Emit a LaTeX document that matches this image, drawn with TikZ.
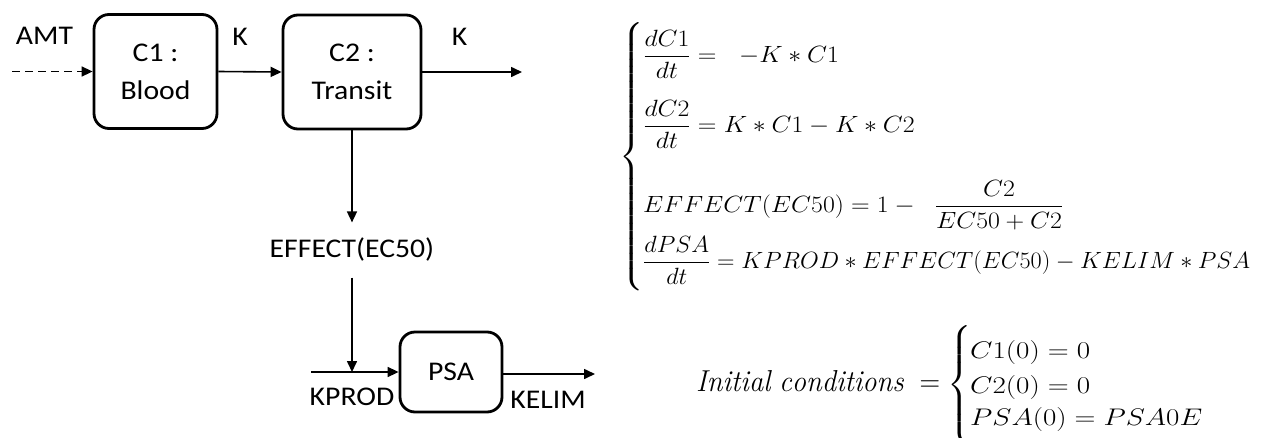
\RequirePackage{fix-cm}
\documentclass[tikz,border=0pt]{standalone}
\usepackage{amsmath}
\usepackage{fontspec}
\usepackage{graphicx}
\newfontfamily\labfont[FakeStretch=1.1]{Carlito}
\usetikzlibrary{arrows.meta}
\newcommand\mx[1]{\scalebox{1.1}[1]{$\displaystyle #1$}}
\newcommand\mw[3]{\resizebox{#1}{#2}{$\displaystyle #3$}}
\tikzset{
  cbox/.style={draw, line width=2.8pt, rounded corners=15pt, inner sep=0pt, align=center,
    font=\labfont\fontsize{27}{38}\selectfont},
  lab/.style={inner sep=0pt, font=\labfont\fontsize{27}{38}\selectfont},
  arr/.style={line width=1.6pt, -{Triangle[length=11pt,width=10pt]}},
  eq/.style={inner sep=0pt, anchor=base west, font=\fontsize{23.5}{28}\selectfont},
}
\begin{document}
\begin{tikzpicture}[x=1pt,y=-1pt]
\useasboundingbox (0,0) rectangle (1262,437);
% compartments
\node[cbox, minimum width=123pt, minimum height=114pt] (c1) at (155.5,71.5) {C1 :\\Blood};
\node[cbox, minimum width=138pt, minimum height=114pt] (c2) at (352,72) {C2 :\\Transit};
\node[cbox, minimum width=102pt, minimum height=80pt] (psa) at (451,372) {PSA};
% labels
\node[lab, anchor=base] (amt) at (44.5,44) {AMT};
\node[lab, anchor=base] (k1) at (240,45) {K};
\node[lab, anchor=base] (k2) at (459.5,45) {K};
\node[lab, anchor=base, text height=17.4pt, text depth=3.5pt, inner ysep=17pt] (eff) at (352,257) {EFFECT(EC50)};
\node[lab, anchor=base] (kprod) at (352,405) {KPROD};
\node[lab, anchor=base] (kelim) at (548,408) {KELIM};
% connectors
\coordinate (amtin) at (12,71.5);
\coordinate (kout) at (522,72);
\coordinate (j) at (352,372);
\coordinate (kin) at (311,372);
\coordinate (kel) at (595,374);
\draw[arr, dash pattern=on 8pt off 5pt] (amtin) -- (c1.west);
\draw[arr] (c1.east) -- (c2.west);
\draw[arr] (c2.east) -- (kout);
\draw[arr] (c2.south) -- (eff.north);
\draw[arr] (eff.south) -- (j);
\draw[arr] (kin) -- (psa.west);
\draw[arr] (psa.east |- kel) -- (kel);
% equations
\node[eq, anchor=center] (br1) at (632,156.5) {\mx{\left\{\vrule height 128pt depth 128pt width 0pt\right.}};
\node[eq] (e1) at (643,62) {\mx{\frac{dC1}{dt} = \hspace{14pt} -K * C1}};
\node[eq] (e2) at (643,132) {\mx{\frac{dC2}{dt} = K * C1 - K * C2}};
\node[eq] (e3) at (643,212) {\mx{EFFECT(EC50) = 1 - \hspace{13pt}\frac{C2}{EC50 + C2}}};
\node[eq] (e4) at (643,268) {\mw{607pt}{\height}{\frac{dPSA}{dt} = KPROD * EFFECT(EC50) - KELIM * PSA}};
\node[eq] (ic) at (696,391) {\mw{244pt}{21pt}{\mathit{Initial\ conditions}\; =}};
\node[eq, anchor=center] (br2) at (960,385) {\mx{\left\{\vrule height 49pt depth 49pt width 0pt\right.}};
\node[eq] (i1) at (970,358) {\mw{120pt}{18pt}{C1(0) = 0}};
\node[eq] (i2) at (970,393) {\mw{120pt}{18pt}{C2(0) = 0}};
\node[eq] (i3) at (970,425) {\mw{232pt}{18pt}{PSA(0) = PSA0E}};
\end{tikzpicture}
\end{document}
